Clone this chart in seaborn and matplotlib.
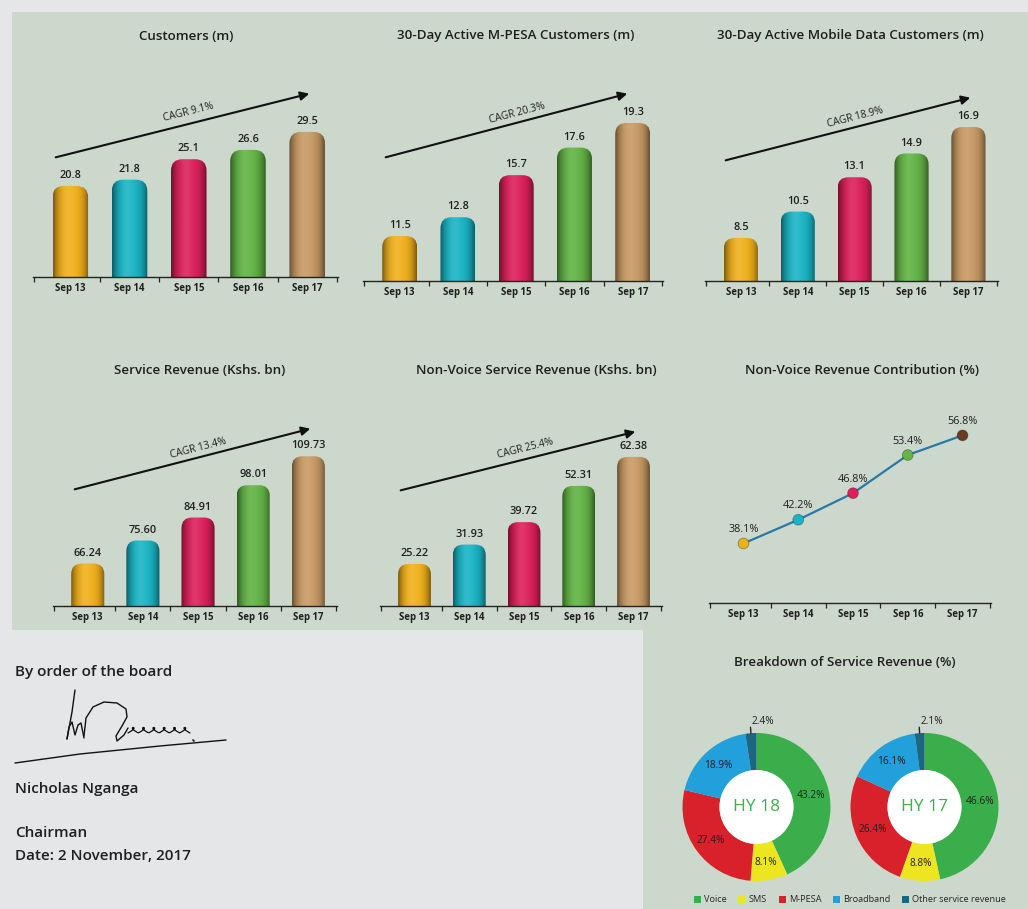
import numpy as np
import pandas as pd
import matplotlib
matplotlib.use("Agg")
import matplotlib.pyplot as plt
import seaborn as sns
from matplotlib.patches import FancyBboxPatch, Rectangle, Circle, Patch
from matplotlib.lines import Line2D
from matplotlib.colors import to_rgb

# ---------------- data ----------------
periods = ["Sep 13", "Sep 14", "Sep 15", "Sep 16", "Sep 17"]
customers = [20.8, 21.8, 25.1, 26.6, 29.5]
mpesa_active = [11.5, 12.8, 15.7, 17.6, 19.3]
data_active = [8.5, 10.5, 13.1, 14.9, 16.9]
service_revenue = [66.24, 75.60, 84.91, 98.01, 109.73]
nonvoice_revenue = [25.22, 31.93, 39.72, 52.31, 62.38]
nonvoice_share = [38.1, 42.2, 46.8, 53.4, 56.8]

cagr_labels = ["CAGR 9.1%", "CAGR 20.3%", "CAGR 18.9%", "CAGR 13.4%", "CAGR 25.4%"]

rev_segments = ["Voice", "SMS", "M-PESA", "Broadband", "Other service revenue"]
hy18_share = [43.2, 8.1, 27.4, 18.9, 2.4]
hy17_share = [46.6, 8.8, 26.4, 16.1, 2.1]

bar_colors = ["#f1b01c", "#19b4c4", "#dc205b", "#62b345", "#c89a64"]
dot_colors = ["#eeb019", "#16b6c6", "#e01e5c", "#63b645", "#6b3c22"]
seg_colors = ["#3aae4a", "#ece51f", "#d8212b", "#22a0db", "#1b6680"]

# ---------------- setup ----------------
W, H = 1028, 909
sns.set_theme(style="white")
plt.rcParams["font.family"] = ["Open Sans", "DejaVu Sans"]
GREEN_BG = "#ccd8cb"
GRAY_BG = "#e5e6e8"
TXT = "#1f1f1f"

fig = plt.figure(figsize=(W / 100, H / 100), dpi=100, facecolor=GRAY_BG)


def fx(x):
    return x / W


def fy(y):
    return 1 - y / H


def px_axes(l, r, t, b):
    return fig.add_axes([fx(l), fy(b), (r - l) / W, (b - t) / H])


# background panels
fig.patches.append(Rectangle((fx(12), fy(630)), fx(1028) - fx(12), fy(12) - fy(630),
                             transform=fig.transFigure, facecolor=GREEN_BG, edgecolor="none", zorder=-10))
fig.patches.append(Rectangle((fx(643), fy(909)), fx(1028) - fx(643), fy(630) - fy(909),
                             transform=fig.transFigure, facecolor=GREEN_BG, edgecolor="none", zorder=-10))

XLIM = (-0.63, 4.52)
BOUNDS = [-0.62, 0.5, 1.5, 2.5, 3.5, 4.51]


def style_axis(ax):
    ax.set_facecolor("none")
    for s in ["top", "right", "left"]:
        ax.spines[s].set_visible(False)
    ax.spines["bottom"].set_color("#222222")
    ax.spines["bottom"].set_linewidth(1.0)
    ax.set_yticks([])
    ax.set_xticks(range(len(periods)))
    ax.set_xticklabels(periods, fontsize=6.9, fontweight="bold", color=TXT)
    ax.set_xticks(BOUNDS, minor=True)
    ax.tick_params(axis="x", which="major", length=0, pad=4)
    ax.tick_params(axis="x", which="minor", length=3.5, width=0.9, color="#222222", direction="out", bottom=True)
    ax.set_xlabel("")
    ax.set_ylabel("")


def shade_img(color):
    base = np.array(to_rgb(color))
    t = np.linspace(0, 1, 80)
    edge = np.abs(2 * t - 1)
    shade = 1 - 0.5 * edge ** 3.0
    img = base[None, :] * shade[:, None]
    hl = 0.10 * np.exp(-((t - 0.42) / 0.18) ** 2)
    img = img + (1 - img) * hl[:, None]
    return np.clip(img[None, :, :], 0, 1)


def bar_panel(rect, vals, ylim, title, title_xy, cagr, arrow, text_xy, decimals):
    l, r, t, b = rect
    ax = px_axes(l, r, t, b)
    df = pd.DataFrame({"period": periods, "value": vals})
    sns.barplot(data=df, x="period", y="value", hue="period", palette=bar_colors,
                legend=False, width=0.6, saturation=1, ax=ax)
    ax.set_xlim(*XLIM)
    ax.set_ylim(*ylim)
    style_axis(ax)
    xu = (XLIM[1] - XLIM[0]) / (r - l)
    yu = (ylim[1] - ylim[0]) / (b - t)
    asp = yu / xu
    ax.set_autoscale_on(False)
    bars = list(ax.patches)
    for p, c in zip(bars, bar_colors):
        x0, w, h = p.get_x(), p.get_width(), p.get_height()
        p.set_visible(False)
        rr = w * 0.32
        rp = FancyBboxPatch((x0, 0), w, h, boxstyle=f"round,pad=0,rounding_size={rr}",
                            mutation_aspect=asp, transform=ax.transData,
                            facecolor="none", edgecolor="none")
        ax.add_patch(rp)
        im = ax.imshow(shade_img(c), extent=(x0, x0 + w, 0, h), aspect="auto",
                       interpolation="bicubic", zorder=2)
        im.set_clip_path(rp)
    ax.set_xlim(*XLIM)
    ax.set_ylim(*ylim)
    for i, v in enumerate(vals):
        ax.annotate(f"{v:.{decimals}f}", (i, v), xytext=(0, 3.5), textcoords="offset points",
                    ha="center", va="bottom", fontsize=7.8, fontweight="semibold", color=TXT)
    fig.text(fx(title_xy[0]), fy(title_xy[1]), title, ha="center", va="center",
             fontsize=9.6, fontweight="semibold", color=TXT)
    (x1, y1), (x2, y2) = arrow
    fig.add_artist(matplotlib.patches.FancyArrowPatch((fx(x1), fy(y1)), (fx(x2), fy(y2)),
                                                      transform=fig.transFigure, arrowstyle="-|>",
                                                      mutation_scale=13, lw=1.5, color="#111111"))
    ang = np.degrees(np.arctan2(y1 - y2, x2 - x1))
    fig.text(fx(text_xy[0]), fy(text_xy[1]), cagr, rotation=ang, rotation_mode="anchor",
             ha="center", va="center", fontsize=7.3, color=TXT)
    return ax


bar_panel((33, 338, 60, 277), customers, (6.1, 41.1), "Customers (m)", (186, 36),
          cagr_labels[0], ((53, 158), (312, 93)), (188, 112), 1)
bar_panel((363, 663, 60, 281), mpesa_active, (8.4, 23.64), "30-Day Active M-PESA Customers (m)", (516, 36),
          cagr_labels[1], ((383, 158), (630, 93)), (517, 113), 1)
bar_panel((705, 998, 60, 281), data_active, (5.24, 21.98), "30-Day Active Mobile Data Customers (m)", (850, 36),
          cagr_labels[2], ((723, 161), (973, 97)), (855, 117), 1)
bar_panel((53, 337, 390, 606), service_revenue, (49.05, 136.6), "Service Revenue (Kshs. bn)", (200, 371),
          cagr_labels[3], ((72, 490), (313, 428)), (198, 448), 2)
bar_panel((380, 662, 390, 606), nonvoice_revenue, (10.6, 85.6), "Non-Voice Service Revenue (Kshs. bn)", (536, 371),
          cagr_labels[4], ((398, 491), (638, 431)), (525, 449), 2)

# ---------------- line chart ----------------
axl = px_axes(709, 991, 390, 603)
ldf = pd.DataFrame({"pos": range(len(periods)), "share": nonvoice_share, "period": periods})
sns.lineplot(data=ldf, x="pos", y="share", color="#2a78a8", lw=1.6, ax=axl)
sns.scatterplot(data=ldf, x="pos", y="share", hue="period", palette=dot_colors, s=60,
                edgecolor="#00000055", linewidth=0.6, legend=False, ax=axl, zorder=3)
axl.set_xlim(*XLIM)
axl.set_ylim(27.8, 64.65)
style_axis(axl)
for i, v in enumerate(nonvoice_share):
    axl.annotate(f"{v:.1f}%", (i, v), xytext=(0, 6), textcoords="offset points",
                 ha="center", va="bottom", fontsize=7.8, color=TXT)
fig.text(fx(862), fy(371), "Non-Voice Revenue Contribution (%)", ha="center", va="center",
         fontsize=9.6, fontweight="semibold", color=TXT)

# ---------------- donuts ----------------
fig.text(fx(845), fy(662), "Breakdown of Service Revenue (%)", ha="center", va="center",
         fontsize=9.6, fontweight="semibold", color=TXT)


def donut(cx, cy, vals, label):
    ax = px_axes(cx - 74, cx + 74, cy - 74, cy + 74)
    wedges, _ = ax.pie(vals, colors=seg_colors, startangle=90, counterclock=False, radius=1,
                       wedgeprops=dict(width=0.5, edgecolor="none"))
    ax.add_patch(Circle((0, 0), 0.5, facecolor="white", edgecolor="none", zorder=3))
    ax.set_xlim(-1, 1)
    ax.set_ylim(-1, 1)
    ax.axis("off")
    for w, v in zip(wedges, vals):
        a = np.radians((w.theta1 + w.theta2) / 2)
        if v < 5:
            xs = [1.0 * np.cos(a), 1.08 * np.cos(a)]
            ys = [1.0 * np.sin(a), 1.08 * np.sin(a)]
            ax.plot(xs, ys, color="#222222", lw=1.0, clip_on=False)
            ax.text(xs[1] + 0.02, 1.16, f"{v:.1f}%", ha="left", va="center", fontsize=7.3, color=TXT)
        else:
            ax.text(0.76 * np.cos(a), 0.76 * np.sin(a), f"{v:.1f}%", ha="center", va="center",
                    fontsize=7.3, color=TXT)
    ax.text(0, 0, label, ha="center", va="center", fontsize=12.5, color="#3db04a", zorder=4)


donut(756.5, 807, hy18_share, "HY 18")
donut(924.5, 807, hy17_share, "HY 17")

handles = [Patch(facecolor=c, edgecolor="none") for c in seg_colors]
fig.legend(handles, rev_segments, loc="center", bbox_to_anchor=(fx(850), fy(900)), ncol=5,
           frameon=False, fontsize=6.6, handlelength=0.75, handleheight=0.75, handletextpad=0.35,
           columnspacing=1.3, borderpad=0)

# ---------------- signature block ----------------
for txt, yy in [("By order of the board", 672), ("Nicholas Nganga", 789),
                ("Chairman", 833), ("Date: 2 November, 2017", 856)]:
    fig.text(fx(15), fy(yy), txt, ha="left", va="center", fontsize=11,
             fontweight="semibold", color=TXT)


def stroke(pts, lw=1.0):
    xs = [fx(p[0]) for p in pts]
    ys = [fy(p[1]) for p in pts]
    fig.add_artist(Line2D(xs, ys, transform=fig.transFigure, color="#111111", lw=lw,
                          solid_capstyle="round", solid_joinstyle="round"))


stroke([(75, 690), (72, 712), (67, 739)])
stroke([(67, 739), (69, 727), (72, 722), (75, 735), (78, 725), (81, 723), (84, 738)])
stroke([(84, 736), (86, 718), (93, 707), (104, 702), (117, 703), (126, 709), (127, 717),
        (122, 726), (116, 736), (117, 741), (124, 735), (128, 728)])
tt = np.linspace(0, 1, 120)
sx = 128 + 62 * tt + 3.0 * np.sin(2 * np.pi * 6 * tt)
sy = 733 - 5.5 * np.abs(np.sin(np.pi * 6 * tt))
stroke(list(zip(sx, sy)), lw=0.9)
stroke([(193, 740), (194, 741)], lw=1.2)
stroke([(15, 763), (80, 754), (160, 746), (226, 740)], lw=1.0)

fig.savefig("out.png", dpi=100, facecolor=GRAY_BG)
